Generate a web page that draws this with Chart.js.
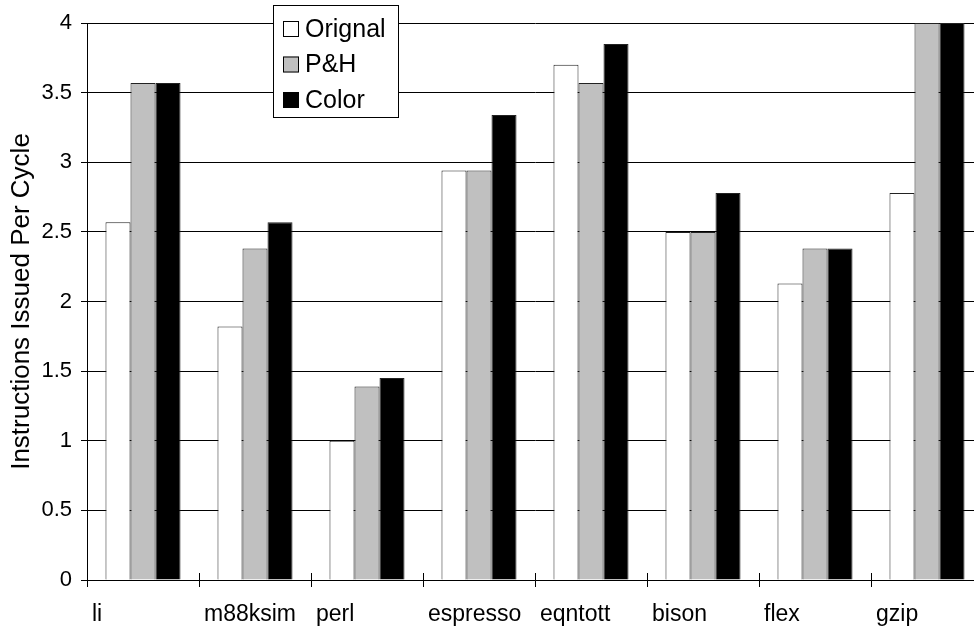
<!DOCTYPE html>
<html>
<head>
<meta charset="utf-8">
<script src="https://cdn.jsdelivr.net/npm/chart.js@4.4.1/dist/chart.umd.min.js"></script>
<style>
  html, body { margin: 0; padding: 0; background: #fff; overflow: hidden; }
  #wrap { width: 974px; height: 630px; overflow: hidden; }
</style>
</head>
<body>
<div id="wrap"><canvas id="ipcChart" width="1000" height="630"></canvas></div>
<script>
// benchmarks and issue rates
var benchmarks = ['li', 'm88ksim', 'perl', 'espresso', 'eqntott', 'bison', 'flex', 'gzip'];
var seriesNames = ['Orignal', 'P&H', 'Color'];
var original = [2.57, 1.82, 1.00, 2.94, 3.70, 2.50, 2.13, 2.78];
var pAndH    = [3.57, 2.38, 1.39, 2.94, 3.57, 2.50, 2.38, 4.00];
var color    = [3.57, 2.57, 1.45, 3.34, 3.85, 2.78, 2.38, 4.00];
var yTickLabels = ['0', '0.5', '1', '1.5', '2', '2.5', '3', '3.5', '4'];

var fillColors = ['#ffffff', '#c0c0c0', '#000000'];
var fontName = '"Liberation Sans", Arial, Helvetica, sans-serif';

// little legend box sitting inside the plot
var boxLegend = {
    id: 'boxLegend',
    afterDraw: function(chart) {
        var ctx = chart.ctx;
        var x = 273, y = 5, w = 125, h = 112;
        ctx.save();
        ctx.fillStyle = '#fff';
        ctx.fillRect(x, y, w, h);
        ctx.strokeStyle = '#000';
        ctx.lineWidth = 1;
        ctx.strokeRect(x + 0.5, y + 0.5, w, h);
        ctx.font = '25px ' + fontName;
        ctx.textBaseline = 'middle';
        chart.data.datasets.forEach(function(ds, i) {
            var cy = 29 + i * 35.5;
            ctx.fillStyle = ds.backgroundColor;
            ctx.fillRect(283, cy - 8, 16, 16);
            ctx.strokeStyle = '#000';
            ctx.strokeRect(283.5, cy - 7.5, 15, 15);
            ctx.fillStyle = '#000';
            ctx.fillText(ds.label, 305, cy + 1);
        });
        ctx.restore();
    }
};

// category ticks poke a bit above the axis line too
var upperTicks = {
    id: 'upperTicks',
    afterDatasetsDraw: function(chart) {
        var xs = chart.scales.x;
        var ctx = chart.ctx;
        var half = (xs.getPixelForValue(1) - xs.getPixelForValue(0)) / 2;
        ctx.save();
        ctx.strokeStyle = '#000';
        ctx.lineWidth = 1;
        ctx.beginPath();
        for (var i = 0; i <= benchmarks.length; i++) {
            var px = Math.round(xs.getPixelForValue(0) - half + i * 2 * half) + 0.5;
            ctx.moveTo(px, xs.top);
            ctx.lineTo(px, xs.top - 7);
        }
        ctx.stroke();
        ctx.restore();
    }
};

var ctx = document.getElementById('ipcChart').getContext('2d');
var myChart = new Chart(ctx, {
    type: 'bar',
    data: {
        labels: benchmarks,
        datasets: [original, pAndH, color].map(function(vals, i) {
            return {
                label: seriesNames[i],
                data: vals,
                backgroundColor: fillColors[i],
                borderColor: '#222',
                borderWidth: 1,
                borderSkipped: 'bottom'
            };
        })
    },
    options: {
        responsive: false,
        animation: false,
        categoryPercentage: 0.67,
        barPercentage: 1.0,
        layout: { padding: { top: 23, right: 17, bottom: 0, left: 0 } },
        plugins: {
            legend: { display: false },
            tooltip: { enabled: false }
        },
        scales: {
            x: {
                offset: true,
                grid: {
                    offset: true,
                    drawOnChartArea: false,
                    color: '#000',
                    tickLength: 7
                },
                border: { color: '#000', width: 1 },
                ticks: {
                    align: 'start',
                    labelOffset: -51,
                    padding: 14,
                    color: '#000',
                    maxRotation: 0,
                    autoSkip: false,
                    font: { family: fontName, size: 23 }
                },
                afterFit: function(scale) { scale.height = 50; }
            },
            y: {
                min: 0,
                max: 4,
                ticks: {
                    stepSize: 0.5,
                    padding: 9,
                    color: '#000',
                    font: { family: fontName, size: 22 },
                    callback: function(value) {
                        return yTickLabels[Math.round(value * 2)];
                    }
                },
                grid: { color: '#000', tickLength: 6 },
                border: { color: '#000', width: 1 },
                title: {
                    display: true,
                    text: 'Instructions Issued Per Cycle',
                    color: '#000',
                    padding: { top: 6, bottom: 0 },
                    font: { family: fontName, size: 26, weight: 'normal' }
                },
                afterFit: function(scale) { scale.width = 87; }
            }
        }
    },
    plugins: [boxLegend, upperTicks]
});
</script>
</body>
</html>
